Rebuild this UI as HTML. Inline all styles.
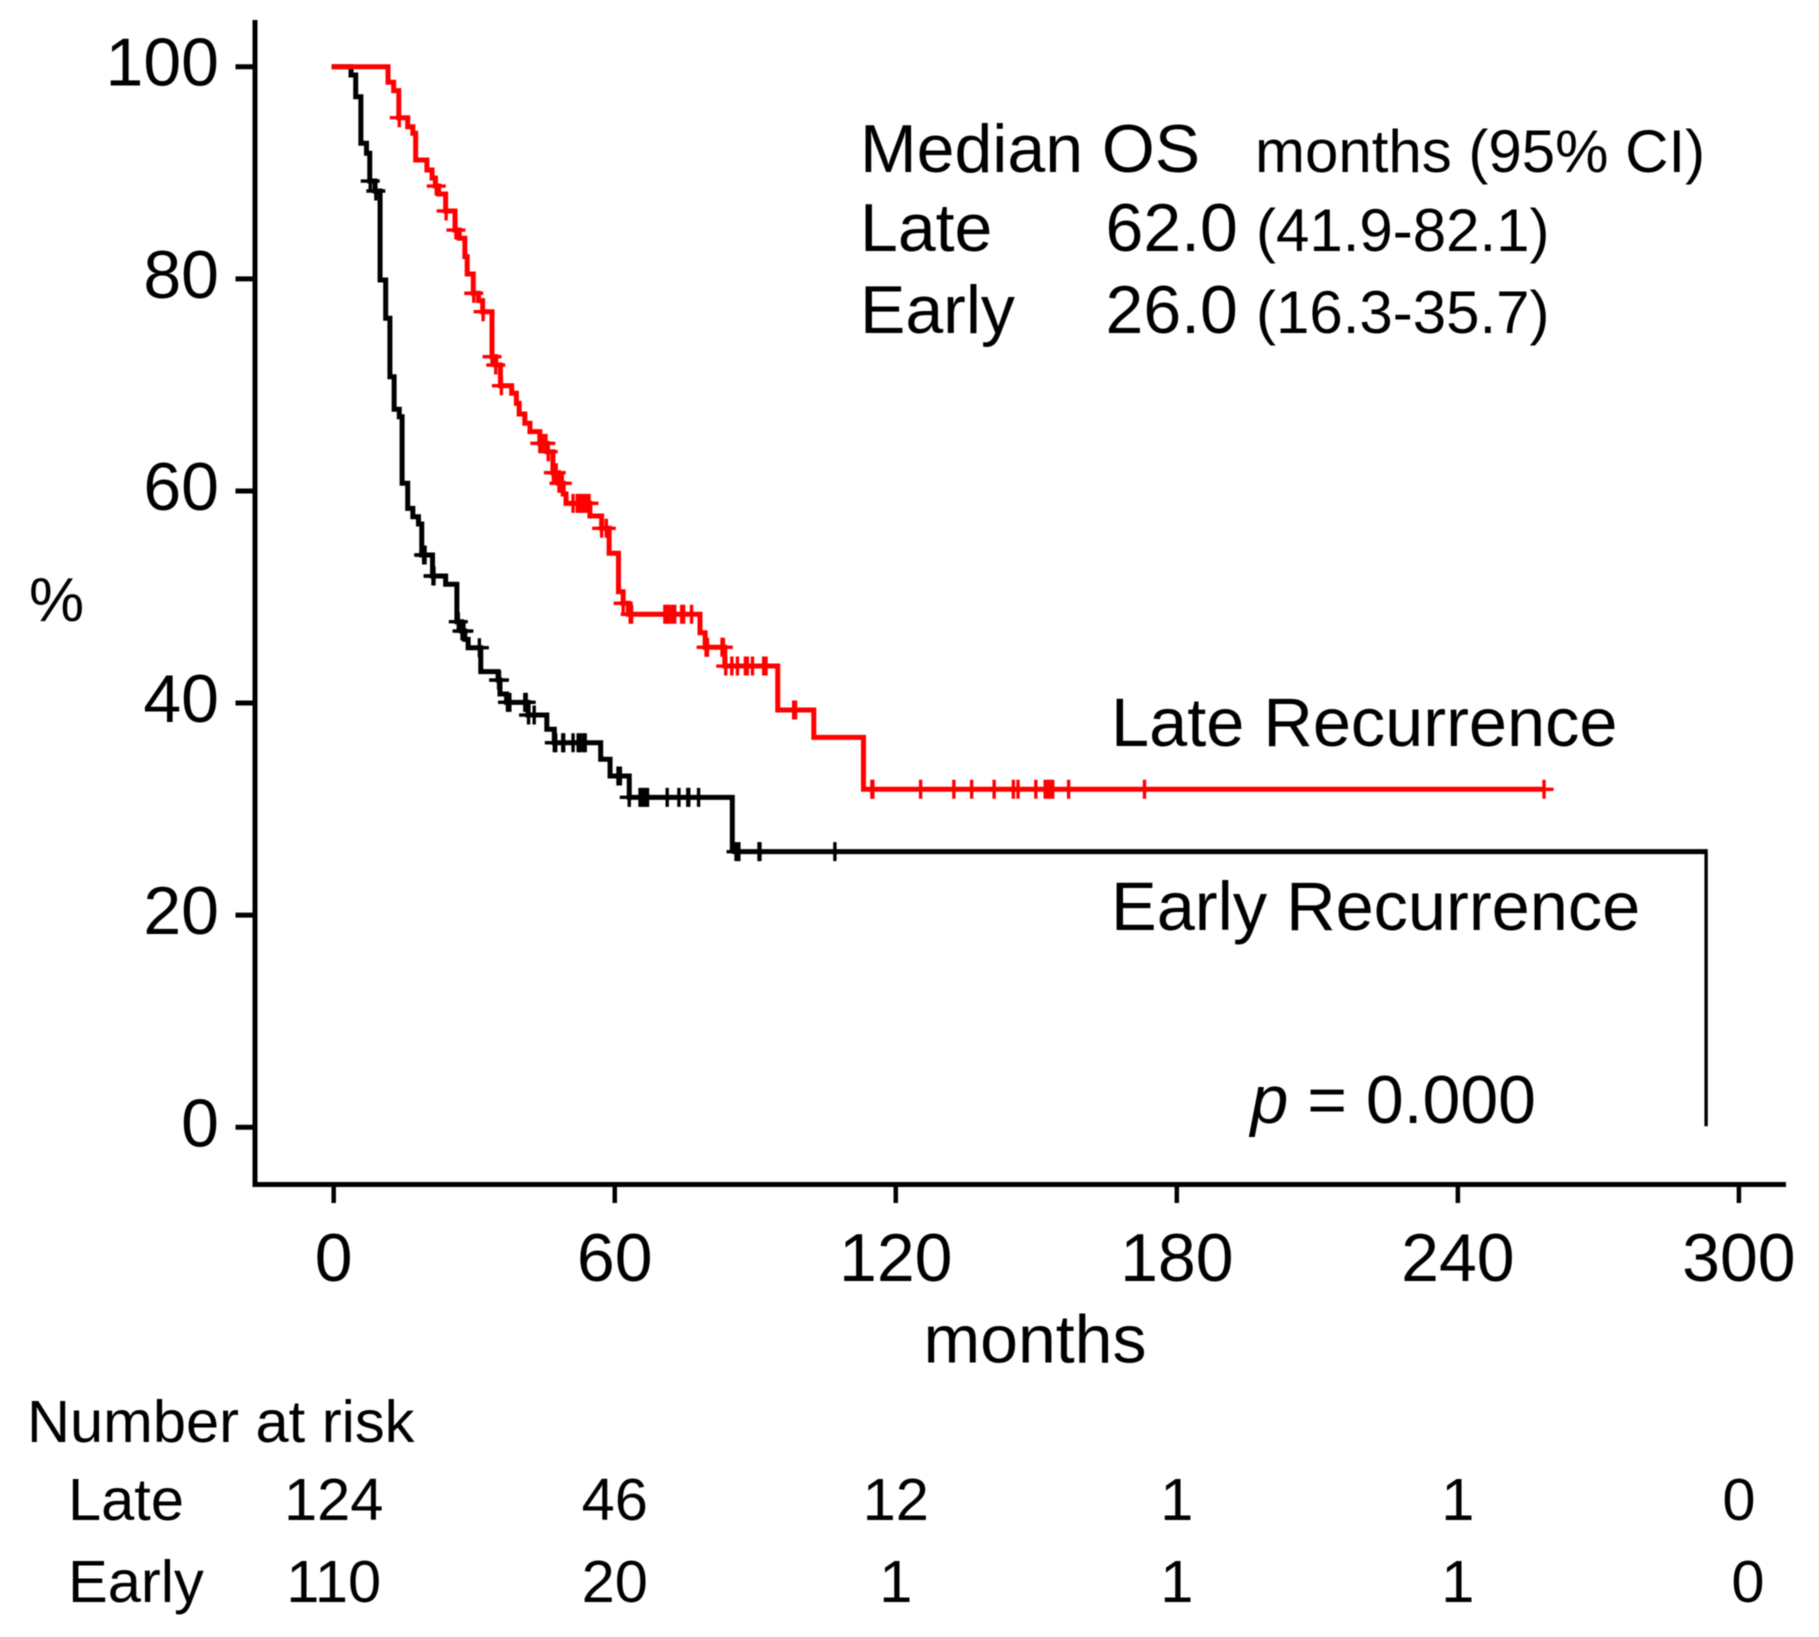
<!DOCTYPE html>
<html>
<head>
<meta charset="utf-8">
<title>Overall survival after late and early recurrence</title>
<style>
html,body{margin:0;padding:0;background:#fff;width:1819px;height:1637px;overflow:hidden}
svg{display:block;filter:blur(0.5px)}
text{font-family:"Liberation Sans",sans-serif;fill:#000}
</style>
</head>
<body>
<svg id="chart" xmlns="http://www.w3.org/2000/svg" width="1819" height="1637" viewBox="0 0 1819 1637">
  <g id="axes"></g>
  <g id="series"></g>

  <text x="29" y="621" font-size="62">%</text>
  <text x="1035" y="1362.5" font-size="68" text-anchor="middle">months</text>

  <g>
    <text x="860" y="172" font-size="68">Median OS</text>
    <text x="1255" y="172" font-size="60">months (95% CI)</text>
    <text x="860" y="251" font-size="68">Late</text>
    <text x="1105.5" y="251" font-size="68">62.0</text>
    <text x="1256" y="251" font-size="60">(41.9-82.1)</text>
    <text x="860" y="333" font-size="68">Early</text>
    <text x="1105.5" y="333" font-size="68">26.0</text>
    <text x="1256" y="333" font-size="60">(16.3-35.7)</text>
  </g>

  <text x="1111" y="746" font-size="68.5">Late Recurrence</text>
  <text x="1111" y="930" font-size="68.5">Early Recurrence</text>
  <text x="1250.5" y="1123" font-size="68"><tspan font-style="italic">p</tspan> = 0.000</text>

  <g id="risk">
    <text x="27" y="1442" font-size="59.6">Number at risk</text>
    <text x="68" y="1520" font-size="59.6">Late</text>
    <text x="68" y="1602" font-size="59.6">Early</text>
  </g>
</svg>

<script>
// ---- chart data (months, percent survival) ----
const xTickValues = [0, 60, 120, 180, 240, 300];
const yTickValues = [0, 20, 40, 60, 80, 100];

const lateTimes = [11.6,12.8,13.9,15.8,16.9,17.5,19.9,21.0,21.7,22.4,23.9,25.9,26.8,28.0,28.5,29.8,30.9,31.8,33.8,34.6,35.6,38.0,39.0,39.6,40.8,41.9,44.0,45.6,46.8,48.0,49.0,49.6,54.7,57.2,58.8,60.8,61.8,62.9,78.2,79.3,83.5,94.8,102.5,113.1,258.4];
const lateSurvival = [98.53,97.74,95.19,94.34,93.72,91.20,90.26,89.51,88.75,88.00,86.40,84.60,83.82,82.09,80.45,78.64,77.94,76.90,72.66,71.87,69.92,69.21,68.26,67.26,66.38,65.59,64.49,63.70,61.72,60.72,59.71,58.83,57.64,56.48,54.12,50.50,49.41,48.37,46.63,45.26,43.49,39.35,36.77,31.87,31.87];
const lateCensorTimes = [14.0,21.9,24.0,26.1,29.9,31.9,33.8,34.6,35.8,44.0,44.6,45.3,45.8,46.9,47.5,48.1,48.8,51.1,52.0,52.6,53.2,53.9,54.5,57.2,58.2,61.8,63.3,63.6,70.7,71.1,71.5,72.2,72.8,74.3,74.7,76.4,79.5,79.8,82.9,83.2,83.7,85.0,86.2,87.9,88.3,89.4,91.8,92.3,98.2,98.6,114.9,115.1,125.3,132.4,136.2,141.0,145.1,146.1,149.9,151.9,152.5,152.9,153.5,156.9,173.1,258.4];

const earlyTimes = [3.7,4.7,5.8,7.0,7.7,8.8,9.9,11.1,12.0,12.9,14.0,14.6,15.8,16.9,18.1,18.8,21.1,23.9,26.3,27.3,28.0,28.7,31.4,35.1,35.5,36.9,41.5,45.5,47.1,57.0,59.0,63.1,85.1,293.0];
const earlySurvival = [99.22,97.17,92.78,91.84,89.22,88.28,79.89,76.28,70.77,67.70,67.00,60.72,58.36,57.57,56.88,53.96,51.98,51.20,47.67,46.79,46.01,45.22,42.96,42.17,40.85,40.07,38.87,37.53,36.26,34.70,33.12,31.11,25.99,0];
const earlyCensorTimes = [7.8,9.0,19.2,19.5,21.2,21.4,26.6,27.4,27.8,31.1,35.2,35.4,37.1,37.6,40.8,41.1,41.6,42.8,47.1,47.4,48.9,49.1,51.1,52.2,52.6,53.3,53.7,60.7,61.2,63.1,65.4,65.8,66.4,67.0,71.2,73.7,75.6,75.8,77.9,85.9,86.5,90.8,91.0,107.0];

const riskTimes = [0, 60, 120, 180, 240, 300];
const riskLate = [124, 46, 12, 1, 1, 0];
const riskEarly = [110, 20, 1, 1, 1, 0];

// ---- axis functions ----
function xScale(t) { return 333.7 + t * 4.684; }
function yScale(s) { return 1127.3 - s * 10.606; }

const NS = 'http://www.w3.org/2000/svg';
const axes = document.getElementById('axes');
const seriesGroup = document.getElementById('series');
const risk = document.getElementById('risk');

function makeLine(parent, x1, y1, x2, y2, w, color) {
  const l = document.createElementNS(NS, 'line');
  l.setAttribute('x1', x1);
  l.setAttribute('y1', y1);
  l.setAttribute('x2', x2);
  l.setAttribute('y2', y2);
  l.setAttribute('stroke', color);
  l.setAttribute('stroke-width', w);
  parent.appendChild(l);
  return l;
}

function makeText(parent, x, y, size, anchor, str) {
  const t = document.createElementNS(NS, 'text');
  t.setAttribute('x', x);
  t.setAttribute('y', y);
  t.setAttribute('font-size', size);
  t.setAttribute('text-anchor', anchor);
  t.textContent = str;
  parent.appendChild(t);
  return t;
}

// axes
const yAxisLine = makeLine(axes, 255, 20, 255, 1187, 5, '#000');


const xAxisLine = makeLine(axes, 252.5, 1184.5, 1786, 1184.5, 5, '#000');



yTickValues.forEach(function (v) {
  const tick = makeLine(axes, 235.5, yScale(v), 255, yScale(v), 5, '#000');
  
  
  const label = makeText(axes, 219, yScale(v) + 19, 68, 'end', String(v));
  
  
});

xTickValues.forEach(function (v) {
  const tick = makeLine(axes, xScale(v), 1184.5, xScale(v), 1203, 4.5, '#000');
  
  
  const label = makeText(axes, xScale(v), 1281, 68, 'middle', String(v));
  
  
});

// step curve helpers
function survivalAt(times, values, t) {
  let s = 100;
  for (let i = 0; i < times.length; i++) {
    if (times[i] <= t) s = values[i];
  }
  return s;
}

function stepPath(times, values, count) {
  let d = 'M' + (xScale(0) - 2) + ' ' + yScale(100);
  for (let i = 0; i < count; i++) {
    d += 'H' + xScale(times[i]) + 'V' + yScale(values[i]);
  }
  return d;
}

function drawCurve(times, values, count, color) {
  const p = document.createElementNS(NS, 'path');
  p.setAttribute('d', stepPath(times, values, count));
  p.setAttribute('fill', 'none');
  p.setAttribute('stroke', color);
  p.setAttribute('stroke-width', 5);
  p.setAttribute('stroke-linejoin', 'miter');
  seriesGroup.appendChild(p);
  return p;
}

function drawCensor(times, values, t, color) {
  const cx = xScale(t);
  const cy = yScale(survivalAt(times, values, t));
  const p = document.createElementNS(NS, 'path');
  p.setAttribute('d', 'M' + (cx - 9.5) + ' ' + cy + 'H' + (cx + 9.5) + 'M' + cx + ' ' + (cy - 9.5) + 'V' + (cy + 9.5));
  p.setAttribute('fill', 'none');
  p.setAttribute('stroke', color);
  p.setAttribute('stroke-width', 3.4);
  seriesGroup.appendChild(p);
  return p;
}

// early curve (black), drawn first so red sits above it
const earlyCurve = drawCurve(earlyTimes, earlySurvival, earlyTimes.length - 1, '#000');



const lastIdx = earlyTimes.length - 1;
const earlyTail = document.createElementNS(NS, 'path');
earlyTail.setAttribute('d', 'M' + xScale(earlyTimes[lastIdx - 1]) + ' ' + yScale(earlySurvival[lastIdx - 1]) + 'H' + xScale(earlyTimes[lastIdx]) + 'V' + yScale(earlySurvival[lastIdx - 1]));
earlyTail.setAttribute('fill', 'none');
earlyTail.setAttribute('stroke', '#000');
earlyTail.setAttribute('stroke-width', 5);


seriesGroup.appendChild(earlyTail);

const earlyDrop = makeLine(seriesGroup, xScale(earlyTimes[lastIdx]), yScale(earlySurvival[lastIdx - 1]) - 2.5, xScale(earlyTimes[lastIdx]), yScale(earlySurvival[lastIdx]) - 1, 3.4, '#000');



earlyCensorTimes.forEach(function (t) {
  const c = drawCensor(earlyTimes, earlySurvival, t, '#000');
  
  
});

// late curve (red)
const lateCurve = drawCurve(lateTimes, lateSurvival, lateTimes.length, '#ff0000');



lateCensorTimes.forEach(function (t) {
  const c = drawCensor(lateTimes, lateSurvival, t, '#ff0000');
  
  
});

// number at risk rows
riskTimes.forEach(function (t, i) {
  const a = makeText(risk, xScale(t), 1520, 59.6, 'middle', String(riskLate[i]));
  
  
  const shift = i === riskTimes.length - 1 ? 9 : 0;
  const b = makeText(risk, xScale(t) + shift, 1602, 59.6, 'middle', String(riskEarly[i]));
  
  
});
</script>
</body>
</html>
